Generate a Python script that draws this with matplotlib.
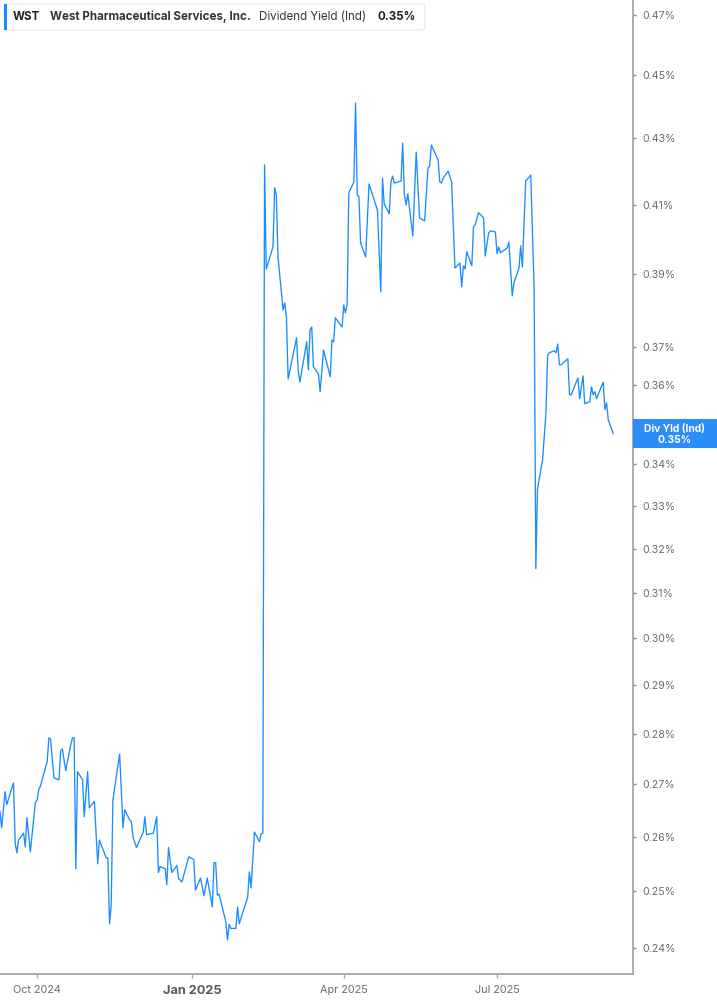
import pandas as pd
import matplotlib
matplotlib.use("Agg")
import matplotlib.pyplot as plt
import matplotlib.dates as mdates
from matplotlib.patches import Rectangle, FancyBboxPatch
from matplotlib.ticker import FixedLocator, FuncFormatter, NullLocator

plt.rcParams["font.family"] = ["Inter", "DejaVu Sans"]

# ------------------------------
# Data
# ------------------------------
dates = [
    "2024-09-09", "2024-09-10", "2024-09-12", "2024-09-13", "2024-09-17", "2024-09-18",
    "2024-09-19", "2024-09-20", "2024-09-23", "2024-09-24", "2024-09-25", "2024-09-27",
    "2024-09-30", "2024-10-01", "2024-10-02", "2024-10-03", "2024-10-07", "2024-10-08",
    "2024-10-09", "2024-10-11", "2024-10-14", "2024-10-15", "2024-10-16", "2024-10-18",
    "2024-10-21", "2024-10-22", "2024-10-23", "2024-10-24", "2024-10-25", "2024-10-28",
    "2024-10-29", "2024-10-31", "2024-11-01", "2024-11-04", "2024-11-06", "2024-11-07",
    "2024-11-11", "2024-11-12", "2024-11-13", "2024-11-14", "2024-11-15", "2024-11-19",
    "2024-11-21", "2024-11-22", "2024-11-25", "2024-11-26", "2024-11-27", "2024-11-29",
    "2024-12-03", "2024-12-04", "2024-12-05", "2024-12-09", "2024-12-11", "2024-12-12",
    "2024-12-13", "2024-12-16", "2024-12-17", "2024-12-18", "2024-12-20", "2024-12-23",
    "2024-12-24", "2024-12-26", "2024-12-30", "2025-01-02", "2025-01-03", "2025-01-06",
    "2025-01-08", "2025-01-10", "2025-01-13", "2025-01-14", "2025-01-15", "2025-01-16",
    "2025-01-17", "2025-01-21", "2025-01-22", "2025-01-23", "2025-01-24", "2025-01-27",
    "2025-01-28", "2025-01-29", "2025-02-03", "2025-02-04", "2025-02-05", "2025-02-07",
    "2025-02-10", "2025-02-11", "2025-02-12", "2025-02-13", "2025-02-14", "2025-02-18",
    "2025-02-19", "2025-02-20", "2025-02-21", "2025-02-24", "2025-02-25", "2025-02-26",
    "2025-02-27", "2025-03-04", "2025-03-05", "2025-03-06", "2025-03-10", "2025-03-11",
    "2025-03-12", "2025-03-13", "2025-03-14", "2025-03-17", "2025-03-18", "2025-03-20",
    "2025-03-24", "2025-03-25", "2025-03-26", "2025-03-27", "2025-03-31", "2025-04-01",
    "2025-04-02", "2025-04-03", "2025-04-04", "2025-04-07", "2025-04-08", "2025-04-09",
    "2025-04-10", "2025-04-11", "2025-04-14", "2025-04-16", "2025-04-21", "2025-04-23",
    "2025-04-24", "2025-04-25", "2025-04-28", "2025-04-29", "2025-04-30", "2025-05-01",
    "2025-05-05", "2025-05-06", "2025-05-07", "2025-05-08", "2025-05-09", "2025-05-12",
    "2025-05-14", "2025-05-16", "2025-05-19", "2025-05-21", "2025-05-22", "2025-05-23",
    "2025-05-27", "2025-05-28", "2025-05-29", "2025-05-30", "2025-06-02", "2025-06-04",
    "2025-06-06", "2025-06-09", "2025-06-10", "2025-06-11", "2025-06-12", "2025-06-13",
    "2025-06-16", "2025-06-17", "2025-06-18", "2025-06-20", "2025-06-23", "2025-06-24",
    "2025-06-26", "2025-06-27", "2025-06-30", "2025-07-01", "2025-07-02", "2025-07-03",
    "2025-07-07", "2025-07-08", "2025-07-10", "2025-07-11", "2025-07-14", "2025-07-15",
    "2025-07-16", "2025-07-18", "2025-07-21", "2025-07-23", "2025-07-24", "2025-07-25",
    "2025-07-28", "2025-07-30", "2025-07-31", "2025-08-01", "2025-08-04", "2025-08-05",
    "2025-08-06", "2025-08-07", "2025-08-08", "2025-08-12", "2025-08-13", "2025-08-14",
    "2025-08-18", "2025-08-19", "2025-08-21", "2025-08-22", "2025-08-25", "2025-08-26",
    "2025-08-27", "2025-08-28", "2025-08-29", "2025-09-02", "2025-09-03", "2025-09-04",
    "2025-09-05", "2025-09-08",
]

div_yield = [
    0.2648, 0.2617, 0.2686, 0.2661, 0.2703, 0.2589,
    0.2570, 0.2594, 0.2607, 0.2581, 0.2636, 0.2572,
    0.2665, 0.2669, 0.2690, 0.2697, 0.2745, 0.2792,
    0.2790, 0.2713, 0.2709, 0.2766, 0.2770, 0.2727,
    0.2778, 0.2792, 0.2792, 0.2541, 0.2725, 0.2709,
    0.2638, 0.2725, 0.2655, 0.2667, 0.2550, 0.2594,
    0.2561, 0.2561, 0.2442, 0.2476, 0.2670, 0.2760,
    0.2617, 0.2651, 0.2632, 0.2628, 0.2598, 0.2580,
    0.2609, 0.2638, 0.2604, 0.2607, 0.2638, 0.2534,
    0.2545, 0.2541, 0.2512, 0.2580, 0.2534, 0.2547,
    0.2523, 0.2517, 0.2563, 0.2558, 0.2502, 0.2524,
    0.2492, 0.2524, 0.2472, 0.2552, 0.2552, 0.2493,
    0.2495, 0.2446, 0.2414, 0.2441, 0.2434, 0.2434,
    0.2472, 0.2442, 0.2490, 0.2535, 0.2506, 0.2609,
    0.2591, 0.2606, 0.2607, 0.4219, 0.3914, 0.3977,
    0.4150, 0.4129, 0.3948, 0.3800, 0.3820, 0.3779,
    0.3616, 0.3725, 0.3635, 0.3608, 0.3714, 0.3640,
    0.3746, 0.3754, 0.3648, 0.3629, 0.3583, 0.3692,
    0.3622, 0.3719, 0.3714, 0.3779, 0.3754, 0.3814,
    0.3792, 0.3814, 0.4135, 0.4167, 0.4411, 0.4129,
    0.4123, 0.3988, 0.3948, 0.4161, 0.4084, 0.3850,
    0.4179, 0.4102, 0.4073, 0.4167, 0.4185, 0.4164,
    0.4170, 0.4286, 0.4129, 0.4099, 0.4132, 0.4008,
    0.4258, 0.4061, 0.4052, 0.4209, 0.4216, 0.4280,
    0.4234, 0.4167, 0.4164, 0.4179, 0.4200, 0.4167,
    0.3917, 0.3931, 0.3864, 0.3923, 0.3914, 0.3963,
    0.3923, 0.4035, 0.4041, 0.4076, 0.4061, 0.3951,
    0.4017, 0.4023, 0.4020, 0.3957, 0.3977, 0.3960,
    0.3974, 0.3991, 0.3839, 0.3875, 0.3917, 0.3980,
    0.3920, 0.4170, 0.4188, 0.3856, 0.3154, 0.3341,
    0.3411, 0.3529, 0.3677, 0.3685, 0.3690, 0.3685,
    0.3708, 0.3653, 0.3653, 0.3669, 0.3575, 0.3575,
    0.3619, 0.3565, 0.3624, 0.3552, 0.3557, 0.3595,
    0.3575, 0.3583, 0.3565, 0.3608, 0.3537, 0.3554,
    0.3511, 0.3476,
]

y_ticks = [0.24, 0.25, 0.26, 0.27, 0.28, 0.29, 0.30, 0.31, 0.32, 0.33, 0.34,
           0.35, 0.36, 0.37, 0.39, 0.41, 0.43, 0.45, 0.47]
x_ticks = ["2024-10-01", "2025-01-01", "2025-04-01", "2025-07-01"]
x_tick_labels = ["Oct 2024", "Jan 2025", "Apr 2025", "Jul 2025"]

ticker_symbol = "WST"
company_name = "West Pharmaceutical Services, Inc."
metric_name = "Dividend Yield (Ind)"
badge_name = "Div Yld (Ind)"

BLUE = "#1a8cff"
GRAY_TXT = "#6b6b6b"
SPINE = "#a6a6a6"

W, H = 717, 1005


def fx(px):
    return px / W


def fy(px):
    return 1 - px / H


df = pd.DataFrame({"date": pd.to_datetime(dates), "value": div_yield})
last_value = df["value"].iloc[-1]

fig = plt.figure(figsize=(W / 100, H / 100), dpi=100)
ax = fig.add_axes([0, fy(974), fx(633), 974 / H])

ax.plot(df["date"], df["value"], color=BLUE, lw=0.95)

ax.set_yscale("log")
ax.set_ylim(0.23554, 0.4751)
ax.set_xlim(pd.Timestamp("2024-09-09"), pd.Timestamp("2025-09-19 16:00"))

# ------------------------------
# Axes style
# ------------------------------
for side in ["top", "left"]:
    ax.spines[side].set_visible(False)
for side in ["right", "bottom"]:
    ax.spines[side].set_color(SPINE)
    ax.spines[side].set_linewidth(1.3)

ax.yaxis.tick_right()
ax.yaxis.set_major_locator(FixedLocator(y_ticks))
ax.yaxis.set_minor_locator(NullLocator())
# the 0.35% label sits under the last-value badge, so it is left blank
ax.yaxis.set_major_formatter(
    FuncFormatter(lambda v, _: "" if abs(v - 0.35) < 1e-6 else f"{v:.2f}%"))
ax.tick_params(axis="y", length=2.5, width=1, color="#888888", pad=4,
               labelsize=7.6, labelcolor=GRAY_TXT)

ax.set_xticks(pd.to_datetime(x_ticks))
ax.set_xticklabels(x_tick_labels)
ax.xaxis.set_minor_locator(NullLocator())
ax.tick_params(axis="x", length=3, width=1, color=SPINE, pad=5,
               labelsize=7.8, labelcolor=GRAY_TXT)
for lbl in ax.get_xticklabels():
    if lbl.get_text().startswith("Jan"):
        lbl.set_fontsize(9.2)
        lbl.set_fontweight("bold")
        lbl.set_color("#5a5a5a")

# ------------------------------
# Last value badge on the right axis
# ------------------------------
fig.canvas.draw()
_, y_disp = ax.transData.transform((mdates.date2num(df["date"].iloc[-1]), last_value))
y_fig = y_disp / fig.bbox.height
bh = 29 / H
fig.patches.append(Rectangle((fx(633), y_fig - bh / 2), fx(84), bh,
                             transform=fig.transFigure, facecolor="#2b8ef8",
                             edgecolor="none", zorder=5))
fig.text(fx(675), y_fig + 5 / H, badge_name, color="white", fontsize=7.4,
         fontweight="bold", ha="center", va="center", zorder=6)
fig.text(fx(675), y_fig - 6 / H, f"{last_value:.2f}%", color="white", fontsize=7.4,
         fontweight="bold", ha="center", va="center", zorder=6)

# ------------------------------
# Header legend box
# ------------------------------
fig.patches.append(FancyBboxPatch((fx(4), fy(30)), fx(421), 26 / H,
                                  boxstyle="round,pad=0,rounding_size=0.004",
                                  transform=fig.transFigure, facecolor="white",
                                  edgecolor="#e6e6e6", lw=0.8, zorder=5))
fig.patches.append(Rectangle((fx(4), fy(30)), fx(3), 26 / H,
                             transform=fig.transFigure, facecolor=BLUE,
                             edgecolor="none", zorder=6))
ty = fy(17)
fig.text(fx(13), ty, ticker_symbol, fontsize=8.3, fontweight="bold", color="#222222",
         va="center", zorder=7)
fig.text(fx(50), ty, company_name, fontsize=8.3, fontweight="bold", color="#333333",
         va="center", zorder=7)
fig.text(fx(259), ty, metric_name, fontsize=8.3, color="#333333", va="center", zorder=7)
fig.text(fx(377), ty, f"{last_value:.2f}%", fontsize=8.3, fontweight="bold",
         color="#222222", va="center", zorder=7)

fig.savefig("out.png", dpi=100, facecolor="white")
